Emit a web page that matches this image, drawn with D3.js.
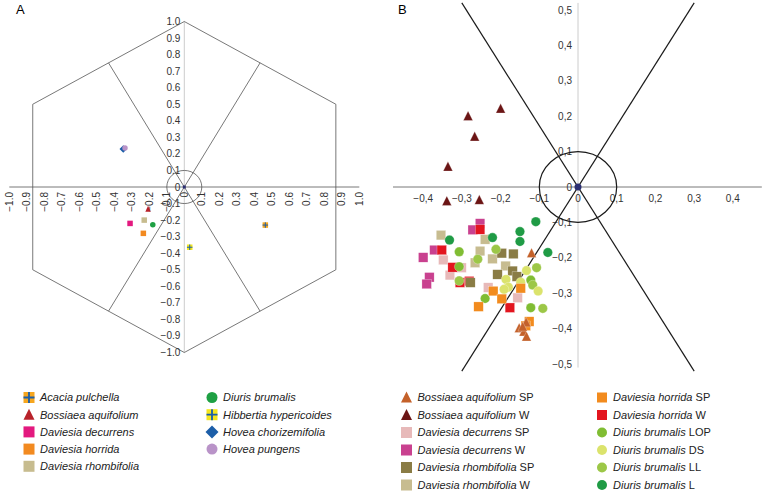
<!DOCTYPE html>
<html>
<head>
<meta charset="utf-8">
<script src="https://cdn.jsdelivr.net/npm/d3@7"></script>
<style>
  body { margin: 0; background: #fff; }
  svg { display: block; font-family: "Liberation Sans", Arial, sans-serif; }
</style>
</head>
<body>
<div id="chart"></div>
<script>
// --- Data ---

// panel A: mean positions per species
const speciesA = ["Acacia pulchella", "Bossiaea aquifolium", "Daviesia decurrens", "Daviesia horrida",
  "Daviesia rhombifolia", "Diuris brumalis", "Hibbertia hypericoides", "Hovea chorizemifolia", "Hovea pungens"];
const pointsA = [[0.463, -0.23], [-0.207, -0.135], [-0.31, -0.22], [-0.234, -0.28],
  [-0.229, -0.20], [-0.18, -0.228], [0.031, -0.364], [-0.349, 0.23], [-0.339, 0.236]];
const ticksA = d3.range(-10, 11).map(d => d / 10);

// panel B: positions per species x site
const groupsB = [
  ["Bossiaea aquifolium", "SP"], ["Bossiaea aquifolium", "W"],
  ["Daviesia decurrens", "SP"], ["Daviesia decurrens", "W"],
  ["Daviesia rhombifolia", "SP"], ["Daviesia rhombifolia", "W"],
  ["Daviesia horrida", "SP"], ["Daviesia horrida", "W"],
  ["Diuris brumalis", "LOP"], ["Diuris brumalis", "DS"],
  ["Diuris brumalis", "LL"], ["Diuris brumalis", "L"]
];
const bossiaeaSP = [[-0.12, -0.187], [-0.152, -0.399], [-0.134, -0.383], [-0.14, -0.409], [-0.133, -0.423], [-0.143, -0.395]];
const bossiaeaW = [[-0.2, 0.221], [-0.284, 0.2], [-0.267, 0.142], [-0.336, 0.057], [-0.339, -0.04], [-0.255, -0.037]];
const decurrensSP = [[-0.348, -0.206], [-0.301, -0.228], [-0.331, -0.249], [-0.232, -0.284], [-0.156, -0.313]];
const decurrensW = [[-0.253, -0.103], [-0.272, -0.121], [-0.371, -0.178], [-0.4, -0.199], [-0.384, -0.255], [-0.391, -0.274]];
const rhombifoliaSP = [[-0.197, -0.187], [-0.167, -0.189], [-0.208, -0.247], [-0.169, -0.237], [-0.158, -0.253], [-0.278, -0.27]];
const rhombifoliaW = [[-0.354, -0.136], [-0.24, -0.148], [-0.253, -0.181], [-0.221, -0.203], [-0.266, -0.214], [-0.187, -0.223]];
const horridaSP = [[-0.126, -0.38], [-0.135, -0.392], [-0.148, -0.286], [-0.219, -0.294], [-0.197, -0.316], [-0.257, -0.338]];
const horridaW = [[-0.253, -0.12], [-0.352, -0.178], [-0.324, -0.227], [-0.281, -0.266], [-0.305, -0.27], [-0.176, -0.341]];
const diurisLOP = [[-0.307, -0.183], [-0.307, -0.225], [-0.122, -0.263], [-0.24, -0.315], [-0.122, -0.341]];
const diurisDS = [[-0.186, -0.261], [-0.133, -0.236], [-0.148, -0.269], [-0.18, -0.283], [-0.191, -0.289], [-0.103, -0.294]];
const diurisLL = [[-0.212, -0.176], [-0.259, -0.204], [-0.307, -0.265], [-0.107, -0.228], [-0.117, -0.277], [-0.091, -0.343]];
const diurisL = [[-0.109, -0.098], [-0.15, -0.126], [-0.15, -0.154], [-0.221, -0.143], [-0.332, -0.15], [-0.078, -0.185]];
const pointsB = [bossiaeaSP, bossiaeaW, decurrensSP, decurrensW, rhombifoliaSP, rhombifoliaW,
  horridaSP, horridaW, diurisLOP, diurisDS, diurisLL, diurisL];
const ticksBx = [-0.4, -0.3, -0.2, -0.1, 0, 0.1, 0.2, 0.3, 0.4];
const ticksBy = [0.5, 0.4, 0.3, 0.2, 0.1, 0, -0.1, -0.2, -0.3, -0.4, -0.5];

// --- Styles ---
const styleA = [
  { shape: "cross", fill: "#f6a61e" },
  { shape: "tri", fill: "#b8222a" },
  { shape: "sq", fill: "#e3197f" },
  { shape: "sq", fill: "#f28a20" },
  { shape: "sq", fill: "#c7bc8f" },
  { shape: "circ", fill: "#1ea043" },
  { shape: "cross", fill: "#f5e61d" },
  { shape: "dia", fill: "#1c5ea8" },
  { shape: "circ", fill: "#b993c8" }
];
const styleB = [
  { shape: "tri", fill: "#c4612a" }, { shape: "tri", fill: "#6b1515" },
  { shape: "sq", fill: "#e7b9b9" }, { shape: "sq", fill: "#c9418f" },
  { shape: "sq", fill: "#8a7c45" }, { shape: "sq", fill: "#c7bc90" },
  { shape: "sq", fill: "#f28b1e" }, { shape: "sq", fill: "#e3151f" },
  { shape: "circ", fill: "#80bd33" }, { shape: "circ", fill: "#dbe36c" },
  { shape: "circ", fill: "#9cc747" }, { shape: "circ", fill: "#1f9b45" }
];
const drawOrderB = [5, 2, 3, 7, 4, 11, 8, 10, 9, 6, 0, 1];

const W = 763, H = 493;
const svg = d3.select("#chart").append("svg").attr("width", W).attr("height", H);
const minus = v => String(v).replace("-", "\u2212");

function marker(g, st, x, y, s) {
  if (st.shape === "sq" || st.shape === "cross") {
    g.append("rect").attr("x", x - s / 2).attr("y", y - s / 2).attr("width", s).attr("height", s)
      .attr("fill", st.fill);
    if (st.shape === "cross") {
      g.append("path").attr("d", `M${x - s / 2},${y}H${x + s / 2}M${x},${y - s / 2}V${y + s / 2}`)
        .attr("stroke", "#1d5fa8").attr("stroke-width", Math.max(1, s / 6));
    }
  } else if (st.shape === "circ") {
    g.append("circle").attr("cx", x).attr("cy", y).attr("r", s / 2).attr("fill", st.fill);
  } else if (st.shape === "tri") {
    const h = s * 0.9;
    g.append("path").attr("d", `M${x},${y - h / 2 - 1}L${x + s / 2},${y + h / 2}L${x - s / 2},${y + h / 2}Z`)
      .attr("fill", st.fill);
  } else if (st.shape === "dia") {
    const r = s / 2 + 1;
    g.append("path").attr("d", `M${x},${y - r}L${x + r},${y}L${x},${y + r}L${x - r},${y}Z`)
      .attr("fill", st.fill);
  }
}

// --- Panel A ---
const xA = d3.scaleLinear().domain([-1, 1]).range([9.3, 359.3]);
const yA = d3.scaleLinear().domain([-1, 1]).range([352.5, 21.5]);
const gA = svg.append("g");

gA.append("text").attr("x", 16).attr("y", 14).attr("font-size", 13).text("A");

gA.append("line").attr("x1", xA(0)).attr("x2", xA(0)).attr("y1", yA(1)).attr("y2", yA(-1))
  .attr("stroke", "#ccc").attr("stroke-width", 1);
gA.append("line").attr("x1", xA(-1)).attr("x2", xA(1)).attr("y1", yA(0)).attr("y2", yA(0))
  .attr("stroke", "#555").attr("stroke-width", 0.8);

const s3 = Math.sqrt(3) / 2;
const hex = [[0, 1], [s3, 0.5], [s3, -0.5], [0, -1], [-s3, -0.5], [-s3, 0.5]];
gA.append("path")
  .attr("d", d3.line().x(d => xA(d[0])).y(d => yA(d[1]))(hex) + "Z")
  .attr("fill", "none").attr("stroke", "#555").attr("stroke-width", 0.8);
[[-s3 / 2, 0.75], [s3 / 2, 0.75], [-s3 / 2, -0.75], [s3 / 2, -0.75]].forEach(p => {
  gA.append("line").attr("x1", xA(0)).attr("y1", yA(0)).attr("x2", xA(p[0])).attr("y2", yA(p[1]))
    .attr("stroke", "#555").attr("stroke-width", 0.8);
});
gA.append("ellipse").attr("cx", xA(0)).attr("cy", yA(0))
  .attr("rx", xA(0.1) - xA(0)).attr("ry", yA(0) - yA(0.1))
  .attr("fill", "none").attr("stroke", "#555").attr("stroke-width", 0.8);

gA.selectAll(".yl").data(ticksA).join("text")
  .attr("x", xA(0) - 4).attr("y", d => yA(d)).attr("dy", "0.35em")
  .attr("text-anchor", "end").attr("font-size", 10).attr("fill", "#333")
  .text(d => d === 0 ? "0" : minus(d.toFixed(1)));
gA.selectAll(".xl").data(ticksA).join("text")
  .attr("transform", d => `translate(${xA(d)},${yA(0) + 5}) rotate(-90)`)
  .attr("dy", "0.35em").attr("text-anchor", "end").attr("font-size", 10).attr("fill", "#333")
  .text(d => d === 0 ? "0" : minus(d.toFixed(1)));

gA.append("rect").attr("x", xA(0) - 1.5).attr("y", yA(0) - 1.5).attr("width", 3).attr("height", 3)
  .attr("fill", "#2b2f72");
pointsA.forEach((p, i) => marker(gA, styleA[i], xA(p[0]), yA(p[1]), 5.5));

// legend A
const legA = svg.append("g").attr("font-size", 11).attr("font-style", "italic").attr("fill", "#222");
speciesA.forEach((name, i) => {
  const col = i < 5 ? 0 : 1;
  const row = i < 5 ? i : i - 5;
  const mx = col ? 212 : 29;
  const my = 397.5 + row * 17.2;
  marker(legA, styleA[i], mx, my, 11);
  legA.append("text").attr("x", mx + 11).attr("y", my).attr("dy", "0.35em").text(name);
});

// --- Panel B ---
const xB = d3.scaleLinear().domain([-0.4, 0.4]).range([423.2, 732.8]);
const yB = d3.scaleLinear().domain([-0.5, 0.5]).range([364, 10]);
const gB = svg.append("g");

gB.append("text").attr("x", 398).attr("y", 14).attr("font-size", 13).text("B");

gB.append("line").attr("x1", xB(0)).attr("x2", xB(0)).attr("y1", yB(0.52)).attr("y2", yB(-0.51))
  .attr("stroke", "#ccc").attr("stroke-width", 1);
gB.append("line").attr("x1", xB(-0.478)).attr("x2", xB(0.475)).attr("y1", yB(0)).attr("y2", yB(0))
  .attr("stroke", "#555").attr("stroke-width", 0.8);

gB.selectAll(".yl").data(ticksBy).join("text")
  .attr("x", xB(0) - 6).attr("y", d => yB(d)).attr("dy", "0.35em")
  .attr("text-anchor", "end").attr("font-size", 10).attr("fill", "#333")
  .text(d => d === 0 ? "0" : minus(d.toFixed(1).replace(".", ",")));
gB.selectAll(".xl").data(ticksBx).join("text")
  .attr("x", d => xB(d)).attr("y", yB(0) + 11).attr("dy", "0.35em")
  .attr("text-anchor", "middle").attr("font-size", 10).attr("fill", "#333")
  .text(d => d === 0 ? "0" : minus(d.toFixed(1).replace(".", ",")));

// two lines through the origin at 60 and 120 degrees
const t60 = Math.tan(Math.PI / 3);
const yEnd = 0.52;
[1, -1].forEach(sgn => {
  gB.append("line")
    .attr("x1", xB(-sgn * yEnd / t60)).attr("y1", yB(-yEnd))
    .attr("x2", xB(sgn * yEnd / t60)).attr("y2", yB(yEnd))
    .attr("stroke", "#1a1a1a").attr("stroke-width", 1.2);
});
gB.append("ellipse").attr("cx", xB(0)).attr("cy", yB(0))
  .attr("rx", xB(0.1) - xB(0)).attr("ry", yB(0) - yB(0.1))
  .attr("fill", "none").attr("stroke", "#1a1a1a").attr("stroke-width", 1.2);

drawOrderB.forEach(i => {
  const g = gB.append("g").attr("stroke", "#fff").attr("stroke-width", 0.4).attr("stroke-opacity", 0.7);
  pointsB[i].forEach(p => marker(g, styleB[i], xB(p[0]), yB(p[1]), 9.5));
});
gB.append("circle").attr("cx", xB(0)).attr("cy", yB(0)).attr("r", 3.5).attr("fill", "#2b2f72");

// legend B
const legB = svg.append("g").attr("font-size", 11).attr("fill", "#222");
groupsB.forEach((_, i) => {
  const col = i % 2;
  const row = Math.floor(i / 2);
  const idx = col === 0 ? row : row + 6;
  const [nm, st] = groupsB[idx];
  const mx = col ? 602 : 406.5;
  const my = 397.5 + row * 17.5;
  marker(legB, styleB[idx], mx, my, col ? 10 : 11);
  const t = legB.append("text").attr("x", mx + 11).attr("y", my).attr("dy", "0.35em");
  t.append("tspan").attr("font-style", "italic").text(nm);
  t.append("tspan").text(" " + st);
});
</script>
</body>
</html>
